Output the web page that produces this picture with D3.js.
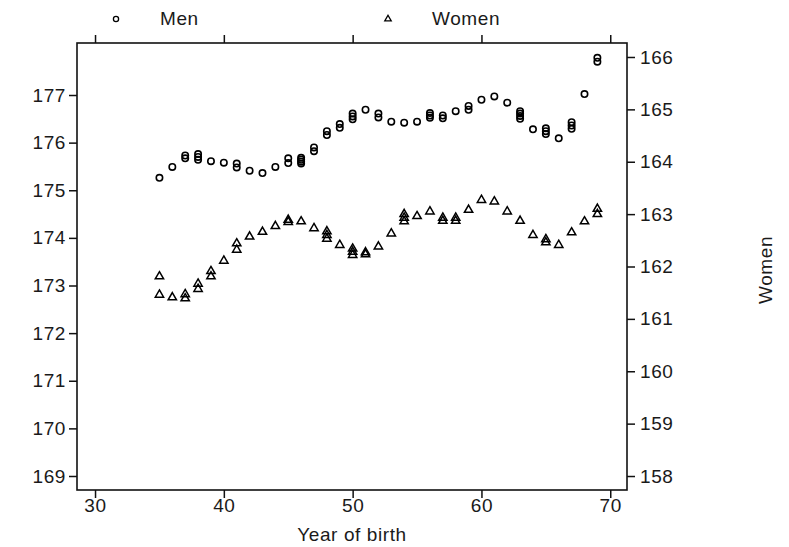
<!DOCTYPE html>
<html>
<head>
<meta charset="utf-8">
<script src="https://cdn.jsdelivr.net/npm/d3@7"></script>
<style>
  html, body { margin: 0; padding: 0; background: #fff; }
  svg text { font-family: "Liberation Sans", Arial, sans-serif; font-size: 19px; fill: #1a1a1a; letter-spacing: 0.6px; }
</style>
</head>
<body>
<svg id="chart" width="789" height="547"></svg>
<script>
// Year of birth (19xx)
const years = [35,36,37,38,39,40,41,42,43,44,45,46,47,48,49,50,51,52,53,54,55,56,57,58,59,60,61,62,63,64,65,66,67,68,69];

// Mean height (cm) of men per birth year; several estimates per year (left axis)
const menHeights = [
  [175.26],[175.49],[175.73,175.67],[175.76,175.70,175.64],[175.61],[175.58],
  [175.56,175.48],[175.41],[175.36],[175.49],[175.67,175.57],[175.68,175.64,175.60,175.56],
  [175.90,175.82],[176.24,176.16],[176.39,176.31],[176.61,176.55,176.49],[176.69],[176.61,176.53],
  [176.44],[176.42],[176.44],[176.62,176.57,176.52],[176.57,176.51],[176.66],
  [176.77,176.69],[176.90],[176.97],[176.84],[176.66,176.61,176.56,176.50],[176.28],
  [176.30,176.24,176.18],[176.09],[176.43,176.36,176.29],[177.02],[177.78,177.70]
];

// Mean height (cm) of women per birth year (right axis)
const womenHeights = [
  [161.81,161.46],[161.41],[161.47,161.39],[161.67,161.57],[161.91,161.81],[162.11],
  [162.44,162.32],[162.57],[162.66],[162.77],[162.89,162.85],[162.86],
  [162.73],[162.67,162.60,162.53],[162.41],[162.34,162.28,162.22],[162.27,162.23],[162.38],
  [162.63],[163.00,162.93,162.86],[162.96],[163.05],[162.93,162.87],[162.93,162.87],
  [163.08],[163.27],[163.24],[163.05],[162.87],[162.60],
  [162.52,162.46],[162.41],[162.65],[162.86],[163.10,163.00]
];

const xTicks = [30,40,50,60,70];
const menTicks = [169,170,171,172,173,174,175,176,177];
const womenTicks = [158,159,160,161,162,163,164,165,166];

const box = { left: 77, right: 627, top: 43, bottom: 490 };

const svg = d3.select("#chart");

const x = d3.scaleLinear().domain([28.6, 71.3]).range([box.left, box.right]);
const yMen = d3.scaleLinear().domain([168.706, 178.092]).range([box.bottom, box.top]);
const yWomen = d3.scaleLinear().domain([157.733, 166.267]).range([box.bottom, box.top]);

// Axes (the frame is drawn separately)
function styleAxis(g) {
  g.select(".domain").remove();
  g.selectAll(".tick line").attr("stroke", "#111").attr("stroke-width", 1.5);
  g.selectAll(".tick text").attr("fill", "#1a1a1a").style("font-size", "19px")
    .style("font-family", "'Liberation Sans', Arial, sans-serif");
}

svg.append("g").attr("transform", `translate(${box.left},0)`)
  .call(d3.axisLeft(yMen).tickValues(menTicks).tickFormat(d3.format("d")).tickSize(8).tickPadding(3))
  .call(styleAxis);

svg.append("g").attr("transform", `translate(${box.right},0)`)
  .call(d3.axisRight(yWomen).tickValues(womenTicks).tickFormat(d3.format("d")).tickSize(8).tickPadding(5))
  .call(styleAxis);

svg.append("g").attr("transform", `translate(0,${box.bottom})`)
  .call(d3.axisBottom(x).tickValues(xTicks).tickFormat(d3.format("d")).tickSize(8).tickPadding(1))
  .call(styleAxis);

svg.append("g").attr("transform", `translate(0,${box.top})`)
  .call(d3.axisTop(x).tickValues(xTicks).tickFormat("").tickSize(8))
  .call(styleAxis);

// Plot frame
svg.append("rect")
  .attr("x", box.left).attr("y", box.top)
  .attr("width", box.right - box.left).attr("height", box.bottom - box.top)
  .attr("fill", "none").attr("stroke", "#111").attr("stroke-width", 1.6);

// Flatten year/value pairs
const menPts = years.flatMap((yr, i) => menHeights[i].map(v => ({ yr, v })));
const womenPts = years.flatMap((yr, i) => womenHeights[i].map(v => ({ yr, v })));

const tri = d3.symbol().type(d3.symbolTriangle).size(30);

svg.append("g").selectAll("circle").data(menPts).join("circle")
  .attr("cx", d => x(d.yr)).attr("cy", d => yMen(d.v)).attr("r", 3.2)
  .attr("fill", "none").attr("stroke", "#000").attr("stroke-width", 1.6);

svg.append("g").selectAll("path").data(womenPts).join("path")
  .attr("d", tri)
  .attr("transform", d => `translate(${x(d.yr)},${yWomen(d.v)})`)
  .attr("fill", "none").attr("stroke", "#000").attr("stroke-width", 1.5);

// Legend
svg.append("circle").attr("cx", 116).attr("cy", 19).attr("r", 2.6)
  .attr("fill", "none").attr("stroke", "#000").attr("stroke-width", 1.3);
svg.append("text").attr("x", 160).attr("y", 25).text("Men");
svg.append("path").attr("d", d3.symbol().type(d3.symbolTriangle).size(18))
  .attr("transform", "translate(388,19)")
  .attr("fill", "none").attr("stroke", "#000").attr("stroke-width", 1.3);
svg.append("text").attr("x", 432).attr("y", 25).text("Women");

// Axis titles
svg.append("text").attr("x", 352).attr("y", 541).attr("text-anchor", "middle").text("Year of birth");
svg.append("text").attr("transform", "translate(772,270) rotate(-90)")
  .attr("text-anchor", "middle").text("Women");
</script>
</body>
</html>
